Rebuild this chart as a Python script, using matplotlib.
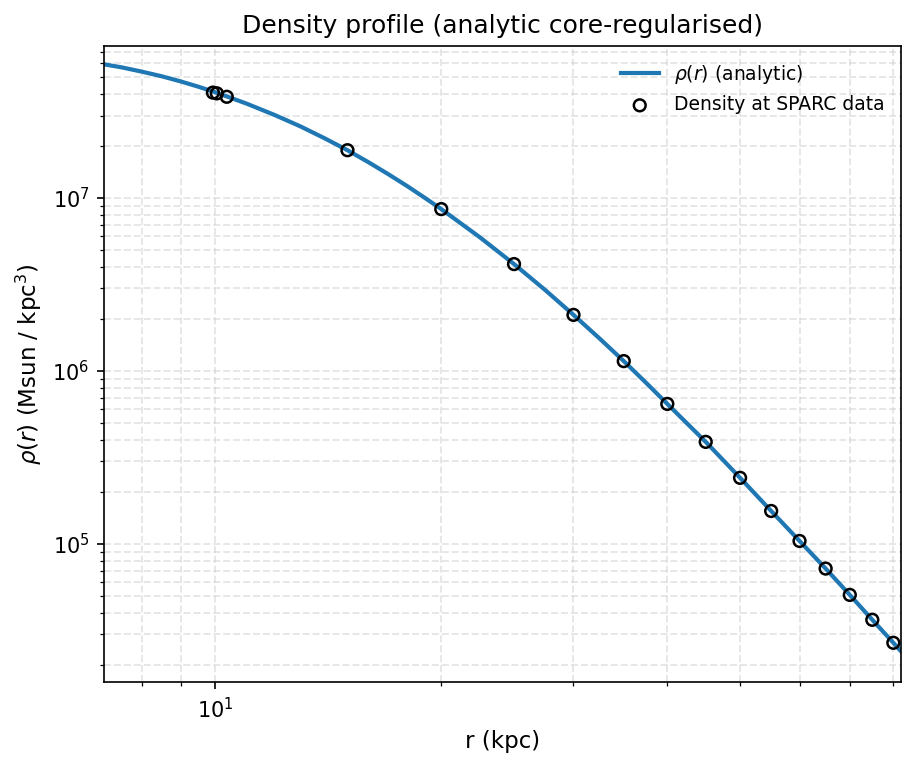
import matplotlib
matplotlib.use("Agg")
import matplotlib.pyplot as plt

# analytic curve
r_line = [7.0, 7.5, 8.0, 8.5, 9.0, 9.5, 10.0, 11.0, 12.0, 13.0, 14.0, 15.0,
          16.0, 17.0, 18.0, 19.0, 20.0, 22.5, 25.0, 27.5, 30.0, 32.5, 35.0,
          37.5, 40.0, 45.0, 50.0, 55.0, 60.0, 65.0, 70.0, 75.0, 80.0, 82.5]
rho_line = [6.0e7, 5.70e7, 5.37e7, 5.05e7, 4.72e7, 4.40e7, 4.09e7, 3.52e7,
            3.02e7, 2.59e7, 2.21e7, 1.89e7, 1.61e7, 1.374e7, 1.175e7, 1.005e7,
            8.63e6, 5.94e6, 4.15e6, 2.94e6, 2.11e6, 1.54e6, 1.14e6, 8.52e5,
            6.45e5, 3.89e5, 2.41e5, 1.55e5, 1.04e5, 7.2e4, 5.07e4, 3.64e4,
            2.68e4, 2.31e4]

# density at SPARC data radii
r_data = [9.93, 10.05, 10.36, 15.0, 20.0, 25.0, 30.0, 35.0, 40.0, 45.0, 50.0,
          55.0, 60.0, 65.0, 70.0, 75.0, 80.0]
rho_data = [4.07e7, 4.03e7, 3.85e7, 1.89e7, 8.63e6, 4.15e6, 2.11e6, 1.14e6,
            6.45e5, 3.89e5, 2.41e5, 1.55e5, 1.04e5, 7.2e4, 5.07e4, 3.64e4, 2.68e4]

fig = plt.figure(figsize=(917 / 150, 767 / 150), dpi=150)
ax = fig.add_axes([104 / 917, 1 - 682 / 767, (901 - 104) / 917, (682 - 46) / 767])

ax.plot(r_line, rho_line, color="#1f77b4", lw=2, label=r"$\rho(r)$ (analytic)")
ax.scatter(r_data, rho_data, s=32, facecolors="none", edgecolors="black",
           linewidths=1.2, label="Density at SPARC data", zorder=3)

ax.set_xscale("log")
ax.set_yscale("log")
ax.set_xlim(7.11, 81.9)
ax.set_ylim(1.59e4, 7.57e7)

ax.grid(True, which="both", ls="--", color="#cccccc", alpha=0.5, lw=0.9)
ax.set_xlabel("r (kpc)", fontsize=11)
ax.set_ylabel(r"$\rho(r)$ (Msun / kpc$^3$)", fontsize=11)
ax.set_title("Density profile (analytic core-regularised)", fontsize=12)
ax.legend(loc="upper right", frameon=False, fontsize=9)

fig.savefig("out.png", dpi=150)
